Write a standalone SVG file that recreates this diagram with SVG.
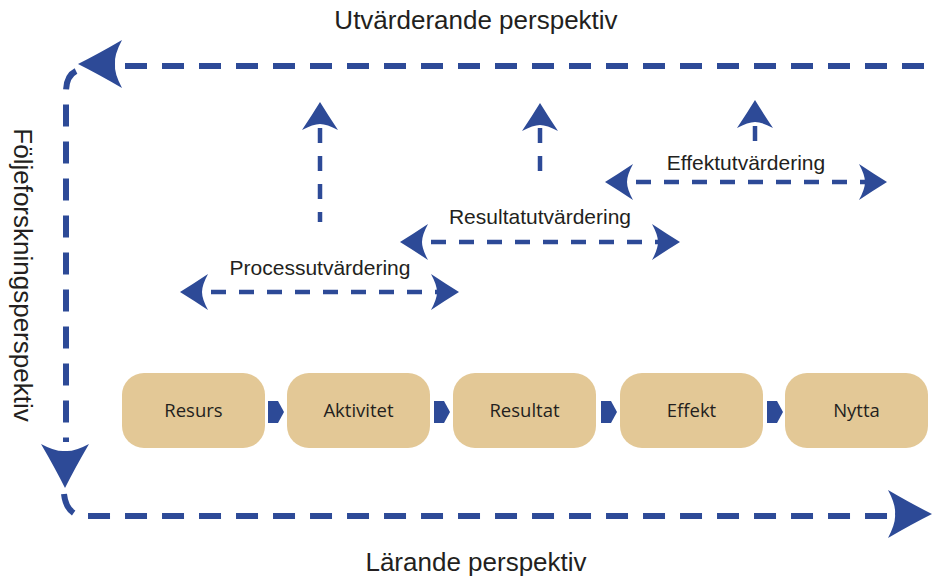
<svg xmlns="http://www.w3.org/2000/svg" width="933" height="578" viewBox="0 0 933 578">
<style>
.lbl{font-family:"Liberation Sans",Arial,sans-serif;fill:#231f20;}
.big{font-size:26px;}
.mid{font-size:21px;}
.box{fill:#e3c896;}
.bt{font-family:"Open Sans","Noto Sans",sans-serif;font-size:18.5px;fill:#231f20;text-anchor:middle;}
.dl{fill:none;stroke:#2d4a97;stroke-width:6;stroke-dasharray:22 15;}
.ds{fill:none;stroke:#2d4a97;stroke-width:4.5;stroke-dasharray:15 13;}
.ah{fill:#2d4a97;}
</style>
<defs>
<path id="ahBig" d="M0,0 Q-20,-10 -44,-24 Q-36,-9 -37,0 Q-36,9 -44,24 Q-20,10 0,0 Z"/>
<path id="ahSmall" d="M0,0 Q-13,-8 -28,-18 Q-22,-7 -22,0 Q-22,7 -28,18 Q-13,8 0,0 Z"/>
<path id="chev" d="M0,0 L10,0 L16,11 L10,22 L0,22 Z"/>
</defs>
<rect width="933" height="578" fill="#ffffff"/>

<g id="labels">
<text class="lbl big" x="476" y="29" text-anchor="middle">Utvärderande perspektiv</text>
<text class="lbl big" x="476" y="571" text-anchor="middle">Lärande perspektiv</text>
<text class="lbl big" transform="translate(14,275) rotate(90)" text-anchor="middle">Följeforskningsperspektiv</text>
<text class="lbl mid" x="320" y="275" text-anchor="middle">Processutvärdering</text>
<text class="lbl mid" x="540" y="224" text-anchor="middle">Resultatutvärdering</text>
<text class="lbl mid" x="746" y="170" text-anchor="middle">Effektutvärdering</text>
</g>

<g id="connectors">
<!-- outer loop -->
<path class="dl" d="M125,66 L933,66"/>
<use href="#ahBig" class="ah" transform="translate(78,64) rotate(180)"/>
<path class="dl" d="M76,71 Q66,76 66,92 L66,442" stroke-dasharray="22 15"/>
<use href="#ahBig" class="ah" transform="translate(65,488) rotate(90)"/>
<path class="dl" d="M64,494 Q66,512 80,516 L898,516" stroke-dasharray="20 15 22 15"/>
<use href="#ahBig" class="ah" transform="translate(932,514)"/>
<!-- process -->
<path class="ds" d="M211,292 L440,292"/>
<use href="#ahSmall" class="ah" transform="translate(180,292) rotate(180)"/>
<use href="#ahSmall" class="ah" transform="translate(459,292)"/>
<!-- resultat -->
<path class="ds" d="M431,242 L660,242"/>
<use href="#ahSmall" class="ah" transform="translate(400,242) rotate(180)"/>
<use href="#ahSmall" class="ah" transform="translate(680,242)"/>
<!-- effekt -->
<path class="ds" d="M636,182 L866,182"/>
<use href="#ahSmall" class="ah" transform="translate(605,182) rotate(180)"/>
<use href="#ahSmall" class="ah" transform="translate(887,182)"/>
<!-- vertical ups -->
<path class="ds" d="M320,128 L320,222" stroke-width="4" stroke-dasharray="22 13"/>
<use href="#ahSmall" class="ah" transform="translate(320,102) rotate(-90)"/>
<path class="ds" d="M540,128 L540,183" stroke-width="4" stroke-dasharray="18 18"/>
<use href="#ahSmall" class="ah" transform="translate(540,103) rotate(-90)"/>
<path class="ds" d="M755,126 L755,143" stroke-width="4" stroke-dasharray="none"/>
<use href="#ahSmall" class="ah" transform="translate(755,100) rotate(-90)"/>
<!-- chevrons between boxes -->
<use href="#chev" class="ah" transform="translate(268,401)"/>
<use href="#chev" class="ah" transform="translate(434,401)"/>
<use href="#chev" class="ah" transform="translate(601,401)"/>
<use href="#chev" class="ah" transform="translate(767,401)"/>
</g>

<g id="resurs"><rect class="box" x="122" y="373" width="143" height="75" rx="22"/><text class="bt" x="193.5" y="417">Resurs</text></g>
<g id="aktivitet"><rect class="box" x="287" y="373" width="143" height="75" rx="22"/><text class="bt" x="358.5" y="417">Aktivitet</text></g>
<g id="resultat"><rect class="box" x="453" y="373" width="143" height="75" rx="22"/><text class="bt" x="524.5" y="417">Resultat</text></g>
<g id="effekt"><rect class="box" x="620" y="373" width="143" height="75" rx="22"/><text class="bt" x="691.5" y="417">Effekt</text></g>
<g id="nytta"><rect class="box" x="785" y="373" width="143" height="75" rx="22"/><text class="bt" x="856.5" y="417">Nytta</text></g>
</svg>
